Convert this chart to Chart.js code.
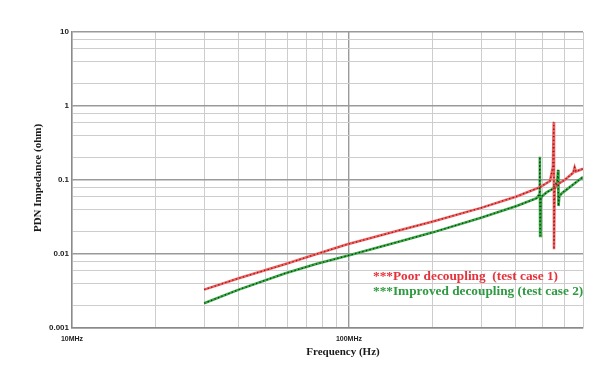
<!DOCTYPE html>
<html>
<head>
<meta charset="utf-8">
<script src="https://cdn.jsdelivr.net/npm/chart.js@4.4.1/dist/chart.umd.min.js"></script>
<style>
  html, body { margin: 0; padding: 0; background: #fff; }
  #wrap { width: 613px; height: 374px; position: relative; }
</style>
</head>
<body>
<div id="wrap"><canvas id="pdnChart" width="613" height="374"></canvas></div>
<script>
// values (frequency in MHz, impedance in ohm)
const poorFreqMHz = [30, 40, 59, 76, 98, 150, 201, 300, 403, 490, 532, 545, 549, 550, 553, 562, 601, 645, 653, 660, 700];
const poorZ = [0.0033, 0.0047, 0.0073, 0.0099, 0.0134, 0.0206, 0.0275, 0.042, 0.060, 0.080, 0.097, 0.15, 0.61, 0.0116, 0.075, 0.086, 0.1, 0.125, 0.148, 0.13, 0.142];

const improvedFreqMHz = [30, 40, 59, 76, 98, 150, 201, 300, 403, 476, 487, 489, 490, 493, 497, 517, 545, 565, 569, 571, 575, 586, 619, 700];
const improvedZ = [0.00216, 0.0033, 0.0055, 0.0073, 0.0094, 0.0145, 0.0196, 0.031, 0.0445, 0.0566, 0.064, 0.206, 0.0175, 0.055, 0.06, 0.068, 0.076, 0.095, 0.137, 0.0445, 0.06, 0.066, 0.077, 0.11];

const seriesLabels = ['***Poor decoupling  (test case 1)', '***Improved decoupling (test case 2)'];

const xGridMHz = [10, 20, 30, 40, 50, 60, 70, 80, 90, 100, 200, 300, 400, 500, 600, 700];
const xTickLabels = { 10: '10MHz', 100: '100MHz' };
const yGrid = [0.001, 0.002, 0.004, 0.006, 0.008, 0.01, 0.02, 0.04, 0.06, 0.08,
               0.1, 0.2, 0.4, 0.6, 0.8, 1, 2, 4, 6, 8, 10];
const yTickLabels = ['0.001', '0.01', '0.1', '1', '10'];

const toPoints = (fs, zs) => fs.map((f, i) => ({ x: f * 1e6, y: zs[i] }));
const isDecade = v => Math.abs(Math.log10(v) - Math.round(Math.log10(v))) < 1e-6;

const poorPts = toPoints(poorFreqMHz, poorZ);
const improvedPts = toPoints(improvedFreqMHz, improvedZ);

// titles and the in-plot legend
const textPlugin = {
  id: 'pdnText',
  afterDraw(chart) {
    const ctx = chart.ctx;
    ctx.save();
    ctx.fillStyle = '#1a1a1a';
    ctx.font = 'bold 11px "Liberation Serif", serif';
    ctx.textAlign = 'center';
    ctx.textBaseline = 'middle';
    ctx.fillText('Frequency (Hz)', 343, 352);

    ctx.translate(38, 178);
    ctx.rotate(-Math.PI / 2);
    ctx.fillText('PDN Impedance (ohm)', 0, 0);
    ctx.restore();

    ctx.save();
    ctx.font = 'bold 13.3px "Liberation Serif", serif';
    ctx.textAlign = 'left';
    ctx.textBaseline = 'middle';
    ctx.fillStyle = '#e5323b';
    ctx.fillText(seriesLabels[0], 373, 277);
    ctx.fillStyle = '#2e9a40';
    ctx.fillText(seriesLabels[1], 373, 292);
    ctx.restore();
  }
};

const gridColor = v => isDecade(v) ? '#9a9a9a' : '#cdcdcd';

new Chart(document.getElementById('pdnChart'), {
  type: 'scatter',
  data: {
    datasets: [
      // dotted overlays get the lowest order so they end up on top
      { label: 'poor-dots', data: poorPts, showLine: true, order: 0, borderColor: '#8c1c1c', borderWidth: 1.3, borderDash: [1.3, 2.4], pointRadius: 0 },
      { label: 'improved-dots', data: improvedPts, showLine: true, order: 1, borderColor: '#0d3d12', borderWidth: 1.3, borderDash: [1.3, 2.4], pointRadius: 0 },
      { label: seriesLabels[0], data: poorPts, showLine: true, order: 2, borderColor: '#f26060', borderWidth: 2.6, pointRadius: 0 },
      { label: seriesLabels[1], data: improvedPts, showLine: true, order: 3, borderColor: '#3aa845', borderWidth: 2.6, pointRadius: 0 }
    ]
  },
  options: {
    responsive: false,
    animation: false,
    layout: { padding: { left: 0, top: 32, right: 30, bottom: 0 } },
    plugins: {
      legend: { display: false },
      tooltip: { enabled: false }
    },
    scales: {
      x: {
        type: 'logarithmic',
        min: 1e7,
        max: 7e8,
        afterBuildTicks: scale => { scale.ticks = xGridMHz.map(v => ({ value: v * 1e6 })); },
        afterFit: scale => { scale.height = 46; },
        ticks: {
          autoSkip: false,
          maxRotation: 0,
          padding: 7,
          color: '#222',
          font: { family: '"Liberation Sans", Arial', size: 7, weight: 'bold' },
          callback: v => xTickLabels[Math.round(v / 1e6)] || ''
        },
        grid: {
          drawTicks: false,
          color: ctx => gridColor(ctx.tick.value / 1e6),
          lineWidth: ctx => isDecade(ctx.tick.value) ? 1.4 : 1
        },
        border: { color: '#8a8a8a', width: 1.4 }
      },
      y: {
        type: 'logarithmic',
        min: 0.001,
        max: 10,
        afterBuildTicks: scale => { scale.ticks = yGrid.map(v => ({ value: v })); },
        afterFit: scale => { scale.width = 72; },
        ticks: {
          autoSkip: false,
          padding: 3,
          color: '#222',
          font: { family: '"Liberation Sans", Arial', size: 8, weight: 'bold' },
          callback: v => {
            const s = String(v);
            return yTickLabels.includes(s) ? s : '';
          }
        },
        grid: {
          drawTicks: false,
          color: ctx => gridColor(ctx.tick.value),
          lineWidth: ctx => isDecade(ctx.tick.value) ? 1.4 : 1
        },
        border: { color: '#8a8a8a', width: 1.4 }
      }
    }
  },
  plugins: [textPlugin]
});
</script>
</body>
</html>
